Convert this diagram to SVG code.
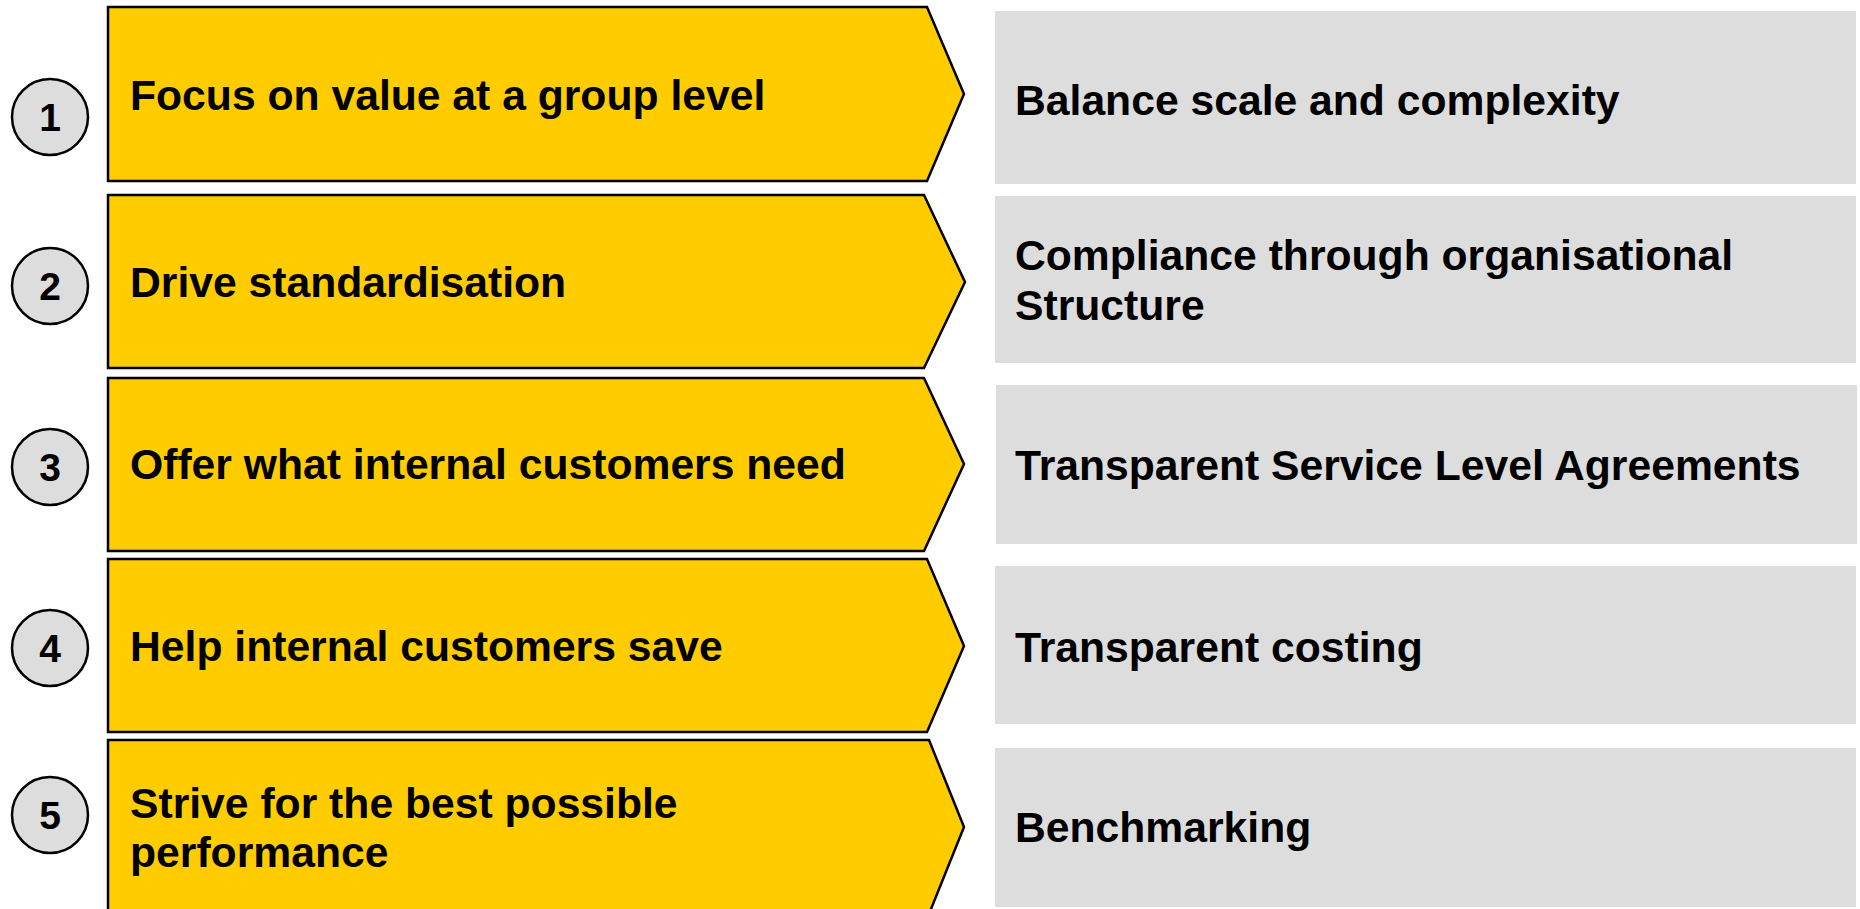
<svg xmlns="http://www.w3.org/2000/svg" width="1860" height="909" viewBox="0 0 1860 909">
<style>
.chev{fill:#FFCC00;stroke:#000;stroke-width:2.5;stroke-linejoin:miter}
.box{fill:#DDDDDD;stroke:none}
.num{fill:#DDDDDD;stroke:#000;stroke-width:2.5}
.t{font-family:"Liberation Sans",Arial,sans-serif;font-weight:bold;font-size:42.67px;fill:#000}
.n{font-family:"Liberation Sans",Arial,sans-serif;font-weight:bold;font-size:39px;fill:#000;text-anchor:middle}
</style>
<rect width="1860" height="909" fill="#fff"/>
<g id="row1">
<circle class="num" cx="50" cy="117" r="38"/>
<text class="n" x="50" y="131">1</text>
<polygon class="chev" points="108,7 927,7 964,94 927,181 108,181"/>
<text class="t" x="130" y="110">Focus on value at a group level</text>
<rect class="box" x="995" y="11" width="861" height="173"/>
<text class="t" x="1015" y="115">Balance scale and complexity</text>
</g>
<g id="row2">
<circle class="num" cx="50" cy="286" r="38"/>
<text class="n" x="50" y="300">2</text>
<polygon class="chev" points="108,195 924,195 965,282 924,368 108,368"/>
<text class="t" x="130" y="297">Drive standardisation</text>
<rect class="box" x="995" y="196" width="861" height="167"/>
<text class="t" x="1015" y="270">Compliance through organisational</text>
<text class="t" x="1015" y="320">Structure</text>
</g>
<g id="row3">
<circle class="num" cx="50" cy="467" r="38"/>
<text class="n" x="50" y="481">3</text>
<polygon class="chev" points="108,378 924,378 964,464 924,551 108,551"/>
<text class="t" x="130" y="479">Offer what internal customers need</text>
<rect class="box" x="996" y="385" width="861" height="159"/>
<text class="t" x="1015" y="480">Transparent Service Level Agreements</text>
</g>
<g id="row4">
<circle class="num" cx="50" cy="648" r="38"/>
<text class="n" x="50" y="662">4</text>
<polygon class="chev" points="108,559 927,559 964,646 927,732 108,732"/>
<text class="t" x="130" y="661">Help internal customers save</text>
<rect class="box" x="995" y="566" width="861" height="158"/>
<text class="t" x="1015" y="662">Transparent costing</text>
</g>
<g id="row5">
<circle class="num" cx="50" cy="815" r="38"/>
<text class="n" x="50" y="829">5</text>
<polygon class="chev" points="108,740 929,740 964,827 929,914 108,914"/>
<text class="t" x="130" y="818">Strive for the best possible</text>
<text class="t" x="130" y="867">performance</text>
<rect class="box" x="995" y="748" width="861" height="159"/>
<text class="t" x="1015" y="842">Benchmarking</text>
</g>
<g id="connectors"></g>
</svg>
